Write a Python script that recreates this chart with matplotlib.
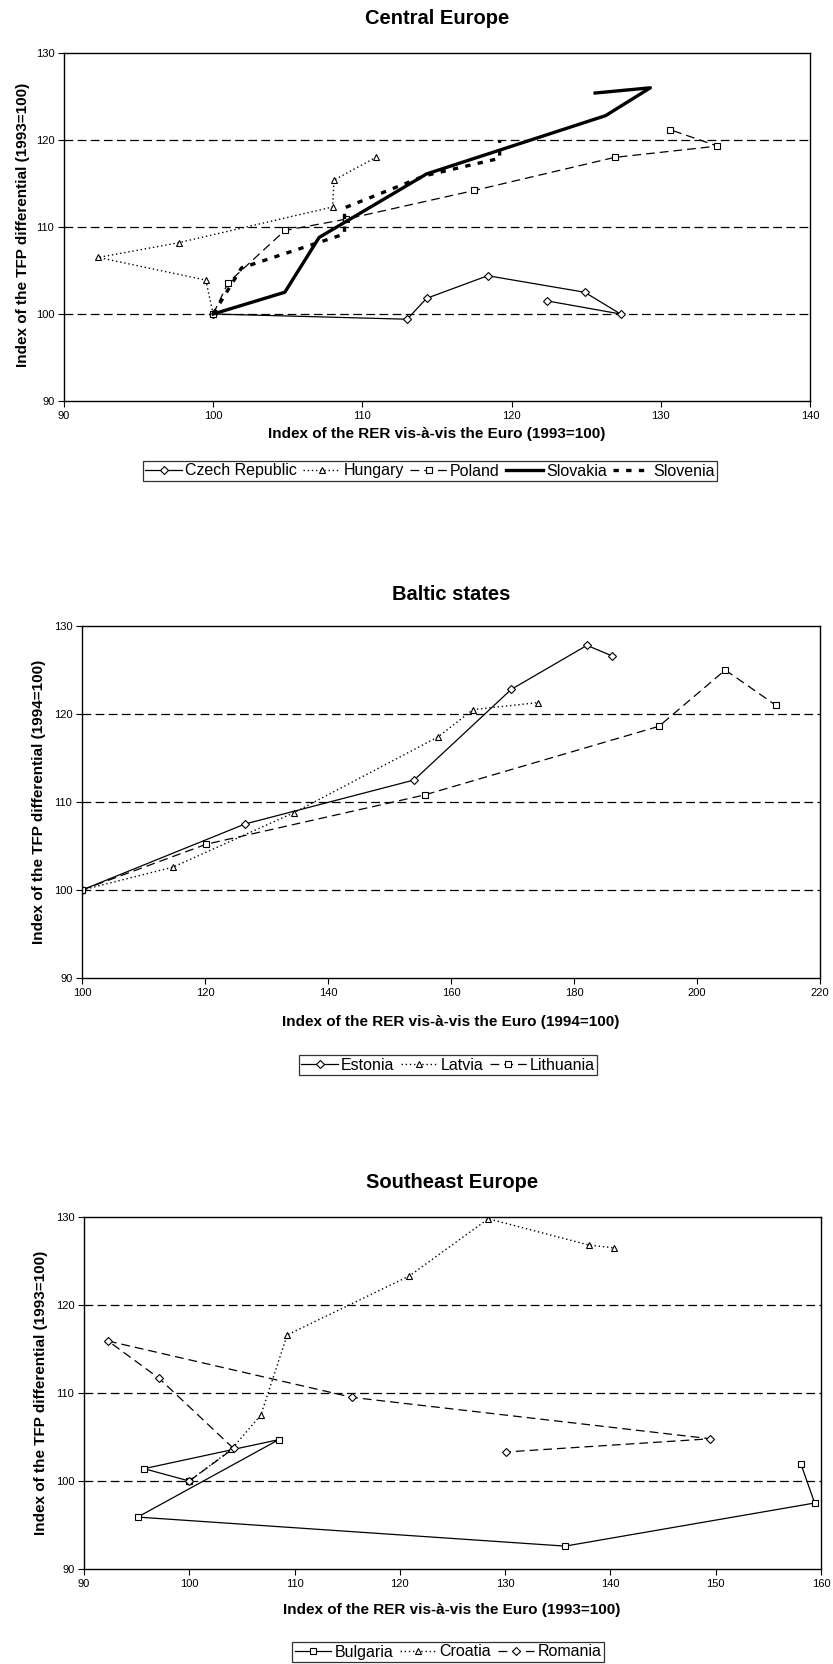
import matplotlib
matplotlib.use('Agg')
import matplotlib.pyplot as plt

plt.rcParams['font.family'] = ['Liberation Sans', 'DejaVu Sans']

# Central Europe (1993=100)
cz_x = [100, 113.0, 114.3, 118.4, 124.9, 127.3, 122.4]
cz_y = [100, 99.4, 101.8, 104.4, 102.5, 100.0, 101.5]
hu_x = [100, 99.5, 92.3, 97.7, 108.0, 108.1, 110.9]
hu_y = [100, 103.9, 106.5, 108.2, 112.3, 115.4, 118.0]
pl_x = [100, 101.0, 104.8, 108.9, 117.5, 126.9, 133.8, 130.6]
pl_y = [100, 103.6, 109.6, 110.9, 114.2, 118.0, 119.3, 121.2]
sk_x = [100, 104.8, 107.1, 114.3, 126.3, 129.3, 125.6]
sk_y = [100, 102.5, 108.8, 116.1, 122.8, 126.0, 125.4]
si_x = [100, 101.9, 108.8, 108.8, 114.2, 119.2, 119.2]
si_y = [100, 105.3, 109.2, 112.2, 115.9, 117.9, 120.0]

# Baltic states (1994=100)
ee_x = [100, 126.5, 154.0, 169.8, 182.1, 186.2]
ee_y = [100, 107.5, 112.5, 122.8, 127.8, 126.6]
lv_x = [100, 114.8, 134.5, 157.9, 163.6, 174.2]
lv_y = [100, 102.6, 108.8, 117.4, 120.5, 121.3]
lt_x = [100, 120.2, 155.7, 193.8, 204.6, 212.8]
lt_y = [100, 105.2, 110.8, 118.6, 125.0, 121.0]

# Southeast Europe (1993=100)
bg_x = [100, 95.7, 108.5, 95.1, 135.7, 159.4, 158.1]
bg_y = [100, 101.4, 104.7, 95.9, 92.6, 97.5, 101.9]
hr_x = [100, 104.0, 106.8, 109.3, 120.9, 128.4, 138.0, 140.3]
hr_y = [100, 103.6, 107.5, 116.6, 123.3, 129.8, 126.8, 126.5]
ro_x = [100, 104.2, 97.1, 92.3, 115.5, 149.5, 130.1]
ro_y = [100, 103.7, 111.7, 115.9, 109.5, 104.8, 103.3]

W, H = 833, 1664
fig = plt.figure(figsize=(W / 100, H / 100), dpi=100)

solid = dict(color='black', lw=0.9, ls='-')
dotted = dict(color='black', lw=1.0, ls=(0, (1, 2)))
dashed = dict(color='black', lw=0.9, ls=(0, (7, 4)))
mk = dict(markerfacecolor='white', markeredgecolor='black', markeredgewidth=0.8)


def make_axes(px_left, px_right, px_top, px_bottom, xlim, xticks):
    ax = fig.add_axes([px_left / W, 1 - px_bottom / H,
                       (px_right - px_left) / W, (px_bottom - px_top) / H])
    ax.set_xlim(*xlim)
    ax.set_ylim(90, 130)
    ax.set_xticks(xticks)
    ax.set_yticks([90, 100, 110, 120, 130])
    for v in [100, 110, 120]:
        ax.axhline(v, color='black', lw=0.9, ls=(0, (7, 3.5)), zorder=1)
    ax.tick_params(direction='out', length=4, width=0.8, labelsize=8, pad=3)
    for s in ax.spines.values():
        s.set_linewidth(1.0)
    return ax


def texts(ax_cx, title, title_y, ylab_x, ylab_y, xlab_y, xlab):
    fig.text(ax_cx / W, 1 - title_y / H, title, ha='center', va='center',
             fontsize=14.5, fontweight='bold')
    fig.text(ylab_x / W, 1 - ylab_y / H, ylab, rotation=90, ha='center',
             va='center', fontsize=11, fontweight='bold')
    fig.text(ax_cx / W, 1 - xlab_y / H, xlab, ha='center', va='center',
             fontsize=11, fontweight='bold')


def legend(ax, cx, cy, ncol):
    leg = ax.legend(loc='center', bbox_to_anchor=(cx / W, 1 - cy / H),
                    bbox_transform=fig.transFigure, ncol=ncol, fontsize=11.5,
                    frameon=True, fancybox=False, edgecolor='black',
                    handlelength=2.3, handletextpad=0.2, columnspacing=0.4,
                    borderpad=0.15, borderaxespad=0)
    leg.get_frame().set_linewidth(0.9)


ylab = 'Index of the TFP differential (1993=100)'

# --- Central Europe
ax1 = make_axes(64, 810, 53, 401, (90, 140), [90, 100, 110, 120, 130, 140])
ax1.plot(cz_x, cz_y, marker='D', markersize=4, label='Czech Republic', **solid, **mk)
ax1.plot(hu_x, hu_y, marker='^', markersize=5, label='Hungary', **dotted, **mk)
ax1.plot(pl_x, pl_y, marker='s', markersize=4.5, label='Poland', **dashed, **mk)
ax1.plot(sk_x, sk_y, color='black', lw=2.4, ls='-', label='Slovakia')
ax1.plot(si_x, si_y, color='black', lw=2.4, ls=(0, (1.6, 2.2)), label='Slovenia')
texts(437, 'Central Europe', 18, 23, 225, 434, 'Index of the RER vis-à-vis the Euro (1993=100)')
legend(ax1, 430, 471, 5)

# --- Baltic states
ax2 = make_axes(82, 820, 626, 978, (100, 220), [100, 120, 140, 160, 180, 200, 220])
ax2.plot(ee_x, ee_y, marker='D', markersize=4, label='Estonia', **solid, **mk)
ax2.plot(lv_x, lv_y, marker='^', markersize=5, label='Latvia', **dotted, **mk)
ax2.plot(lt_x, lt_y, marker='s', markersize=4.5, label='Lithuania', **dashed, **mk)
fig.text(451 / W, 1 - 595 / H, 'Baltic states', ha='center', va='center',
         fontsize=14.5, fontweight='bold')
fig.text(39 / W, 1 - 802 / H, 'Index of the TFP differential (1994=100)', rotation=90,
         ha='center', va='center', fontsize=11, fontweight='bold')
fig.text(451 / W, 1 - 1022 / H, 'Index of the RER vis-à-vis the Euro (1994=100)',
         ha='center', va='center', fontsize=11, fontweight='bold')
legend(ax2, 448, 1065, 3)

# --- Southeast Europe
ax3 = make_axes(84, 821, 1217, 1569, (90, 160), [90, 100, 110, 120, 130, 140, 150, 160])
ax3.plot(bg_x, bg_y, marker='s', markersize=5, label='Bulgaria', **solid, **mk)
ax3.plot(hr_x, hr_y, marker='^', markersize=5, label='Croatia', **dotted, **mk)
ax3.plot(ro_x, ro_y, marker='D', markersize=4, label='Romania', **dashed, **mk)
texts(452, 'Southeast Europe', 1183, 41, 1393, 1610, 'Index of the RER vis-à-vis the Euro (1993=100)')
legend(ax3, 448, 1652, 3)

fig.savefig('out.png', dpi=100)
